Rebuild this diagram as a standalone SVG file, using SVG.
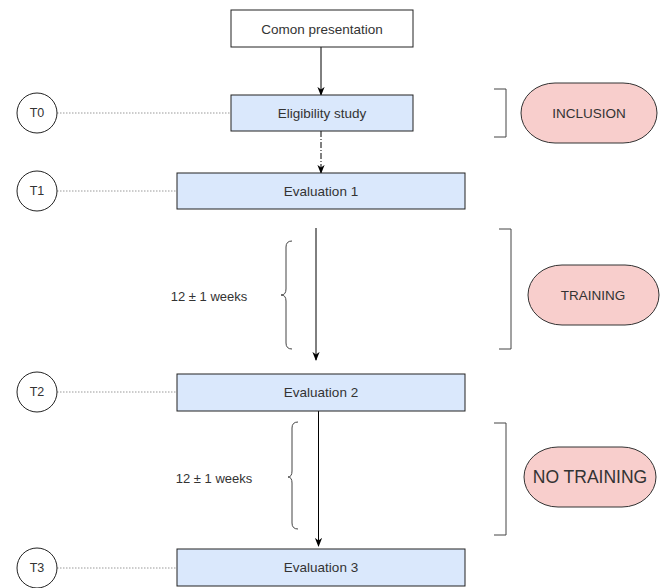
<svg xmlns="http://www.w3.org/2000/svg" width="660" height="588" viewBox="0 0 660 588">
<style>
text{font-family:"Liberation Sans",Arial,sans-serif;fill:#333;text-anchor:middle;dominant-baseline:central}
.box{fill:#dae8fc;stroke:#222;stroke-width:1}
.wbox{fill:#fff;stroke:#222;stroke-width:1}
.circ{fill:#fff;stroke:#222;stroke-width:1}
.dot{stroke:#999;stroke-width:1;stroke-dasharray:1.5 1.5;fill:none}
.pill{fill:#f8cecc;stroke:#333;stroke-width:1}
.brk{fill:none;stroke:#444;stroke-width:1}
.arr{stroke:#000;stroke-width:1;fill:none;marker-end:url(#ah)}
</style>
<defs>
<marker id="ah" viewBox="0 0 10 10" refX="9" refY="5" markerWidth="9" markerHeight="9" markerUnits="userSpaceOnUse" orient="auto">
<path d="M0,1 L10,5 L0,9 L3,5 Z" fill="#000"/>
</marker>
</defs>
<g id="connectors">
<line class="arr" x1="321" y1="47" x2="321" y2="95"/>
<line class="arr" x1="321" y1="131" x2="321" y2="173" stroke-dasharray="6 2 1 2"/>
<line class="arr" x1="316" y1="228" x2="316" y2="360"/>
<line class="arr" x1="318.5" y1="411" x2="318.5" y2="546"/>
<line class="dot" x1="57" y1="113" x2="231" y2="113"/>
<line class="dot" x1="57" y1="191" x2="177" y2="191"/>
<line class="dot" x1="57" y1="392" x2="177" y2="392"/>
<line class="dot" x1="57" y1="568" x2="177" y2="568"/>
</g>
<g id="comon"><rect class="wbox" x="231" y="10" width="182" height="37"/><text x="322" y="29" font-size="13.5">Comon presentation</text></g>
<g id="eligibility"><rect class="box" x="231" y="95" width="182" height="36"/><text x="322" y="113" font-size="13.5">Eligibility study</text></g>
<g id="eval1"><rect class="box" x="177" y="173" width="288" height="36"/><text x="321" y="191" font-size="13.5">Evaluation 1</text></g>
<g id="eval2"><rect class="box" x="177" y="374" width="288" height="37"/><text x="321" y="392" font-size="13.5">Evaluation 2</text></g>
<g id="eval3"><rect class="box" x="177" y="549" width="288" height="37"/><text x="321" y="567" font-size="13.5">Evaluation 3</text></g>
<g id="t0"><circle class="circ" cx="37" cy="113" r="20"/><text x="37" y="113" font-size="12.5">T0</text></g>
<g id="t1"><circle class="circ" cx="37" cy="191" r="20"/><text x="37" y="191" font-size="12.5">T1</text></g>
<g id="t2"><circle class="circ" cx="37" cy="392" r="20"/><text x="37" y="392" font-size="12.5">T2</text></g>
<g id="t3"><circle class="circ" cx="37" cy="568" r="20"/><text x="37" y="568" font-size="12.5">T3</text></g>
<g id="bracket1"><path class="brk" d="M494,89 H506 V137 H494"/></g>
<g id="bracket2"><path class="brk" d="M499,229 H511 V349 H499"/></g>
<g id="bracket3"><path class="brk" d="M494,423 H506 V535 H494"/></g>
<g id="brace1"><path class="brk" d="M292,241 Q286,241 286,247 V289 Q286,295 281,295 Q286,295 286,301 V343 Q286,349 292,349"/><text x="209" y="296" font-size="13">12 ± 1 weeks</text></g>
<g id="brace2"><path class="brk" d="M298,422 Q292,422 292,428 V471 Q292,477 288,477 Q292,477 292,483 V523 Q292,529 298,529"/><text x="214" y="478" font-size="13">12 ± 1 weeks</text></g>
<g id="inclusion"><rect class="pill" x="521" y="83" width="136" height="60" rx="34" ry="30"/><text x="589" y="113" font-size="13.5">INCLUSION</text></g>
<g id="training"><rect class="pill" x="528" y="265" width="131" height="60" rx="34" ry="30"/><text x="593" y="295" font-size="13.5">TRAINING</text></g>
<g id="notraining"><rect class="pill" x="524" y="447" width="132" height="60" rx="34" ry="30"/><text x="590" y="477" font-size="17.5">NO TRAINING</text></g>
</svg>
